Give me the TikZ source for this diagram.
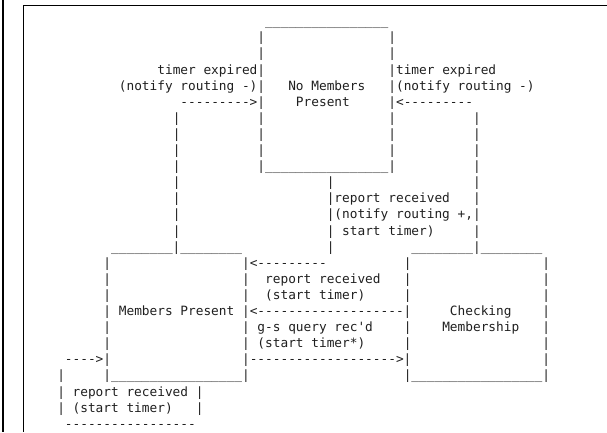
\documentclass[tikz,border=0pt]{standalone}
\usepackage{fontspec}
\setmonofont{DejaVu Sans Mono}
\ExplSyntaxOn
\cs_new:Npn \reptimes #1#2 { \prg_replicate:nn {#1} {#2} }
\ExplSyntaxOff
\newcommand\tx[4]{\node[txt] (#1) at ({57.25+7.7*#2},{25.7+16.1*#3}) {#4};}
\begin{document}
\begin{tikzpicture}[x=1pt,y=-1pt,
  txt/.style={anchor=base west,inner sep=0pt,outer sep=0pt,text=black!88,
    font=\ttfamily\fontsize{12.79}{16.1}\selectfont},
  frame/.style={draw=black,line width=1.7pt}]
\useasboundingbox (0,0) rectangle (607,432);
\coordinate (ftop) at (3.3,0);
\coordinate (fbot) at (3.3,432);
\coordinate (ir) at (607,5.5);
\coordinate (ic) at (23.6,5.5);
\coordinate (ib) at (23.6,432);
\draw[frame] (ftop) -- (fbot);
\draw[frame] (ir) -- (ic) -- (ib);
% line 0-2
\tx{a0}{27}{0}{\reptimes{16}{\_}}
\tx{a1l}{26}{1}{|}\tx{a1r}{43}{1}{|}
\tx{a2l}{26}{2}{|}\tx{a2r}{43}{2}{|}
% line 3-5
\tx{a3l}{13}{3}{timer expired|}
\tx{a3r}{43}{3}{|timer expired}
\tx{a4l}{8}{4}{(notify routing -)|}
\tx{a4c}{30}{4}{No Members}
\tx{a4r}{43}{4}{|(notify routing -)}
\tx{a5l}{16}{5}{\reptimes{9}{-}>|}
\tx{a5c}{31}{5}{Present}
\tx{a5r}{43}{5}{|<\reptimes{9}{-}}
% line 6-8
\foreach \k in {6,7,8}{
  \tx{b\k a}{15}{\k}{|}\tx{b\k b}{26}{\k}{|}\tx{b\k c}{43}{\k}{|}\tx{b\k d}{54}{\k}{|}
}
% line 9
\tx{c9a}{15}{9}{|}
\tx{c9b}{26}{9}{|\reptimes{16}{\_}|}
\tx{c9c}{54}{9}{|}
% line 10-13
\tx{d10a}{15}{10}{|}\tx{d10b}{35}{10}{|}\tx{d10c}{54}{10}{|}
\tx{d11a}{15}{11}{|}\tx{d11b}{35}{11}{|report received}\tx{d11c}{54}{11}{|}
\tx{d12a}{15}{12}{|}\tx{d12b}{35}{12}{|(notify routing +,|}
\tx{d13a}{15}{13}{|}\tx{d13b}{35}{13}{|}\tx{d13t}{37}{13}{start timer)}\tx{d13c}{54}{13}{|}
% line 14
\tx{e14a}{7}{14}{\reptimes{8}{\_}|\reptimes{8}{\_}}
\tx{e14b}{35}{14}{|}
\tx{e14c}{46}{14}{\reptimes{8}{\_}|\reptimes{8}{\_}}
% line 15-17
\tx{f15a}{6}{15}{|}\tx{f15b}{24}{15}{|<\reptimes{9}{-}}\tx{f15c}{45}{15}{|}\tx{f15d}{63}{15}{|}
\tx{f16a}{6}{16}{|}\tx{f16b}{24}{16}{|}\tx{f16t}{27}{16}{report received}\tx{f16c}{45}{16}{|}\tx{f16d}{63}{16}{|}
\tx{f17a}{6}{17}{|}\tx{f17b}{24}{17}{|}\tx{f17t}{27}{17}{(start timer)}\tx{f17c}{45}{17}{|}\tx{f17d}{63}{17}{|}
% line 18-20
\tx{g18a}{6}{18}{|}\tx{g18t}{8}{18}{Members Present}
\tx{g18b}{24}{18}{|<\reptimes{19}{-}|}
\tx{g18c}{51}{18}{Checking}\tx{g18d}{63}{18}{|}
\tx{g19a}{6}{19}{|}\tx{g19b}{24}{19}{|}\tx{g19t}{26}{19}{g-s query rec'd}
\tx{g19c}{45}{19}{|}\tx{g19m}{50}{19}{Membership}\tx{g19d}{63}{19}{|}
\tx{g20a}{6}{20}{|}\tx{g20b}{24}{20}{|}\tx{g20t}{26}{20}{(start timer*)}\tx{g20c}{45}{20}{|}\tx{g20d}{63}{20}{|}
% line 21-22
\tx{h21a}{1}{21}{---->|}
\tx{h21b}{24}{21}{|\reptimes{19}{-}>|}
\tx{h21d}{63}{21}{|}
\tx{h22a}{0}{22}{|}
\tx{h22b}{6}{22}{|\reptimes{17}{\_}|}
\tx{h22c}{45}{22}{|\reptimes{17}{\_}|}
% line 23-25
\tx{k23a}{0}{23}{|}\tx{k23t}{2}{23}{report received}\tx{k23b}{18}{23}{|}
\tx{k24a}{0}{24}{|}\tx{k24t}{2}{24}{(start timer)}\tx{k24b}{18}{24}{|}
\tx{k25}{1}{25}{\reptimes{17}{-}}
\end{tikzpicture}
\end{document}
